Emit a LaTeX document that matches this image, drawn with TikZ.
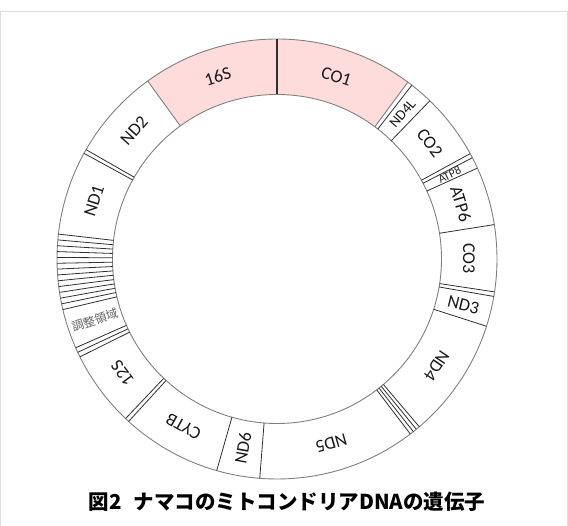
\documentclass[tikz,border=0pt]{standalone}
\usepackage{fontspec}
\setmainfont{Carlito}
\newfontfamily\jpfont{Noto Sans CJK JP}
\definecolor{pinkfill}{HTML}{FFDCDC}
\definecolor{ringgray}{HTML}{808080}
\definecolor{sepgray}{HTML}{303030}
\definecolor{framegray}{HTML}{DDDDDD}
\begin{document}
\begin{tikzpicture}[x=1pt,y=1pt,
  ring/.style={draw=ringgray, line width=0.9pt},
  sepline/.style={draw=sepgray, line width=0.8pt},
  lbl/.style={font=\fontsize{18}{18}\selectfont, inner sep=0pt, text=black!90},
  smalllbl/.style={font=\fontsize{12}{12}\selectfont, inner sep=0pt, text=black!85},
  ctrl/.style={font=\jpfont\fontsize{12}{12}\selectfont, inner sep=0pt, text=black!60},
  titlestyle/.style={font=\jpfont\bfseries\fontsize{20.5}{20.5}\selectfont, inner sep=0pt}]
\useasboundingbox (0,0) rectangle (568,526);
\draw[framegray, line width=0.8pt] (0.6,0) -- (0.6,515) -- (567.4,515) -- (567.4,0);
\begin{scope}[shift={(277,267)}]
  \fill[white] (0,0) circle[radius=220];
  \fill[pinkfill] (53.5:220) arc[start angle=53.5,end angle=126,radius=220]
     -- (126:164.5) arc[start angle=126,end angle=53.5,radius=164.5] -- cycle;
  \fill[white] (0,0) circle[radius=164.5];
  \draw[ring] (0,0) circle[radius=220];
  \draw[ring] (0,0) circle[radius=164.5];
  % separators
  \draw[sepline, line width=1.2pt] (90:164.5) -- (90:220);
  \draw[ring] (126:164.5) -- (126:220);
  \draw[ring] (53.5:164.5) -- (53.5:220);
  \foreach \a in {52.2, 46, 28.6, 27.4, 24.4, 9, -8.6, -9.8, -17.8,
                  -49.7, -50.7, -51.7, -52.7, -94.5, -105.9,
                  -132.4, -133.5, 206.4, 205.1, 203.8, 150.2, 151.3}
    \draw[sepline] (\a:164.5) -- (\a:220);
  \foreach \k in {0,...,13}
    \draw[sepline] ({173.5+1.523*\k}:164.5) -- ({173.5+1.523*\k}:220);
  % labels
  \node[lbl, rotate=18] (g16s) at (108:192) {16S};
  \node[lbl, rotate=-18] (gco1) at (72:192) {CO1};
  \node[font=\fontsize{14.5}{14.5}\selectfont, inner sep=0pt, text=black!90, rotate=49.2] (gnd4l) at (49.2:192) {ND4L};
  \node[lbl, rotate=-52.7] (gco2) at (37.3:192) {CO2};
  \node[smalllbl, rotate=26] (gatp8) at (26:192) {ATP8};
  \node[lbl, rotate=-73.3] (gatp6) at (16.7:192) {ATP6};
  \node[lbl, rotate=-89.8] (gco3) at (0.2:192) {CO3};
  \node[lbl, rotate=-13.8] (gnd3) at (-13.8:192) {ND3};
  \node[lbl, rotate=-123.75] (gnd4) at (-33.75:192) {ND4};
  \node[lbl, rotate=196.4] (gnd5) at (286.4:192) {ND5};
  \node[lbl, rotate=79.8] (gnd6) at (259.8:192) {ND6};
  \node[lbl, rotate=150.85] (gcytb) at (240.85:192) {CYTB};
  \node[lbl, rotate=126.5] (g12s) at (216.5:192) {12S};
  \node[ctrl, rotate=18.5] (gctrl) at (198.5:192) {調整領域};
  \node[lbl, rotate=72.4] (gnd1) at (162.4:192) {ND1};
  \node[lbl, rotate=48.1] (gnd2) at (138.1:192) {ND2};
\end{scope}
\node[titlestyle] (title) at (287,24) {図2\hspace{0.6em}ナマコのミトコンドリアDNAの遺伝子};
\end{tikzpicture}
\end{document}
